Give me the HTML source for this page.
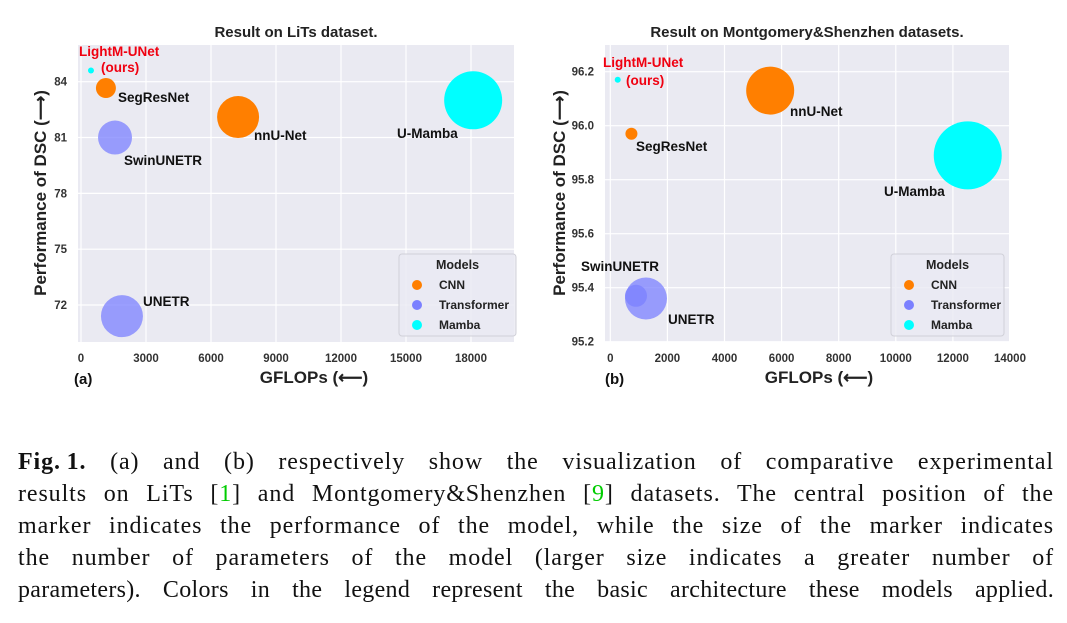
<!DOCTYPE html>
<html><head><meta charset="utf-8"><style>
body{margin:0;background:#fff;width:1067px;height:623px;overflow:hidden;position:relative}
svg text{font-family:"Liberation Sans",sans-serif}
.cap{position:absolute;left:18px;width:1036px;font-family:"Liberation Serif",serif;font-size:24px;letter-spacing:0.9px;color:#111;text-align:justify;text-align-last:justify;white-space:nowrap;line-height:32px}
</style></head><body>
<svg id="fig" width="1067" height="400" style="position:absolute;left:0;top:0"></svg>
<div class="cap" style="top:446px"><b>Fig.&#8201;1.</b> (a) and (b) respectively show the visualization of comparative experimental</div>
<div class="cap" style="top:478px">results on LiTs [<span style="color:#0c0">1</span>] and Montgomery&amp;Shenzhen [<span style="color:#0c0">9</span>] datasets. The central position of the</div>
<div class="cap" style="top:510px">marker indicates the performance of the model, while the size of the marker indicates</div>
<div class="cap" style="top:542px">the number of parameters of the model (larger size indicates a greater number of</div>
<div class="cap" style="top:574px;letter-spacing:0.3px">parameters). Colors in the legend represent the basic architecture these models applied.</div>
<script>
const modelsA = ["LightM-UNet","SegResNet","SwinUNETR","nnU-Net","U-Mamba","UNETR"];
const typesA = ["Mamba","CNN","Transformer","CNN","Mamba","Transformer"];
const gflopsA = [460,1150,1570,7250,18100,1890];
const dscA = [84.6,83.66,81.0,82.1,83.0,71.4];
const radiusA = [3,10,17,21,29,21];
const xTicksA = [0,3000,6000,9000,12000,15000,18000];
const yTicksA = [72,75,78,81,84];

const modelsB = ["LightM-UNet","nnU-Net","SegResNet","U-Mamba","UNETR","SwinUNETR"];
const typesB = ["Mamba","CNN","CNN","Mamba","Transformer","Transformer"];
const gflopsB = [260,5600,740,12520,1250,900];
const dscB = [96.17,96.13,95.97,95.89,95.36,95.37];
const radiusB = [3,24,6,34,21,11];
const xTicksB = [0,2000,4000,6000,8000,10000,12000,14000];
const yTicksB = [95.2,95.4,95.6,95.8,96.0,96.2];
const legendTypes = ["CNN","Transformer","Mamba"];

const colors={CNN:"#ff7f00",Transformer:"#7b80ff",Mamba:"#00ffff"};
const NS="http://www.w3.org/2000/svg";
const svg=document.getElementById('fig');
function mk(tag,attrs,parent,txt){const e=document.createElementNS(NS,tag);for(const k in attrs)e.setAttribute(k,attrs[k]);if(txt!==undefined)e.textContent=txt;(parent||svg).appendChild(e);return e;}

function chart(cfg){
  const g=mk('g',{});
  
  
  const sx=v=>cfg.x0px+(v-cfg.x0v)*(cfg.x1px-cfg.x0px)/(cfg.x1v-cfg.x0v);
  const sy=v=>cfg.y0px+(v-cfg.y0v)*(cfg.y1px-cfg.y0px)/(cfg.y1v-cfg.y0v);
  const bg=mk('rect',{x:cfg.L,y:cfg.T,width:cfg.R-cfg.L,height:cfg.B-cfg.T,fill:'#eaeaf2'},g);
  
  cfg.xt.forEach(t=>{
    mk('line',{x1:sx(t),x2:sx(t),y1:cfg.T,y2:cfg.B,stroke:'#fff','stroke-width':1.2},g);
    const l=mk('text',{x:sx(t),y:362,'text-anchor':'middle','font-size':11.5,'font-weight':'bold',fill:'#333'},g,String(t));
    
  });
  cfg.yt.forEach(t=>{
    mk('line',{x1:cfg.L,x2:cfg.R,y1:sy(t),y2:sy(t),stroke:'#fff','stroke-width':1.2},g);
    const l=mk('text',{x:cfg.L-11,y:sy(t)+4,'text-anchor':'end','font-size':11.5,'font-weight':'bold',fill:'#333'},g,cfg.yfmt(t));
    
  });
  cfg.models.forEach((m,i)=>{
    const c=mk('circle',{cx:sx(cfg.gx[i]),cy:sy(cfg.gy[i]),r:cfg.r[i],fill:colors[cfg.types[i]],'fill-opacity':cfg.types[i]==='Transformer'?0.75:1},g);
    
  });
  cfg.labels.forEach(([t,x,y,col])=>{
    const l=mk('text',{x:x,y:y,'font-size':13.5,'font-weight':'bold',fill:col||'#111'},g,t);
    
  });
  const tt=mk('text',{x:cfg.tx,y:37,'text-anchor':'middle','font-size':15,'font-weight':'bold',fill:'#222'},g,cfg.title);
  
  const yl=mk('text',{x:0,y:0,transform:`translate(${cfg.ylx},193) rotate(-90)`,'text-anchor':'middle','font-size':17,'font-weight':'bold',fill:'#222'},g,'Performance of DSC (\u27F6)');
  
  const xl=mk('text',{x:cfg.xlx,y:383,'text-anchor':'middle','font-size':17,'font-weight':'bold',fill:'#222'},g,'GFLOPs (\u27F5)');
  
  const pl=mk('text',{x:cfg.px,y:384,'font-size':15,'font-weight':'bold',fill:'#111'},g,cfg.panel);
  
  const lg=mk('g',{},g);
  mk('rect',{x:cfg.lgx,y:254,width:cfg.lgw,height:82,rx:3,fill:'#eaeaf2','fill-opacity':0.8,stroke:'#d0d0d8'},lg);
  mk('text',{x:cfg.lgx+cfg.lgw/2,y:269,'text-anchor':'middle','font-size':12.5,'font-weight':'bold',fill:'#222'},lg,'Models');
  legendTypes.forEach((t,i)=>{
    const e=mk('g',{},lg);
    mk('circle',{cx:cfg.lgx+18,cy:285+i*20,r:5,fill:colors[t]},e);
    mk('text',{x:cfg.lgx+40,y:289+i*20,'font-size':12,'font-weight':'bold',fill:'#222'},e,t);
  });
}
chart({name:'chart-lits',L:78,R:514,T:45,B:342,x0v:0,x1v:18000,x0px:81,x1px:471,y0v:84,y1v:72,y0px:81.7,y1px:305,
  xt:xTicksA,yt:yTicksA,yfmt:t=>String(t),models:modelsA,types:typesA,gx:gflopsA,gy:dscA,r:radiusA,
  labels:[["LightM-UNet",79,56,'#f00010'],["(ours)",101,72,'#f00010'],["SegResNet",118,102],["SwinUNETR",124,165],["nnU-Net",254,140],["U-Mamba",397,138],["UNETR",143,306]],
  title:'Result on LiTs dataset.',tx:296,ylx:46,xlx:314,px:74,panel:'(a)',lgx:399,lgw:117});
chart({name:'chart-montgomery-shenzhen',L:605,R:1009,T:45,B:342,x0v:0,x1v:14000,x0px:610.3,x1px:1010,y0v:96.2,y1v:95.2,y0px:71.7,y1px:341.7,
  xt:xTicksB,yt:yTicksB,yfmt:t=>t.toFixed(1),models:modelsB,types:typesB,gx:gflopsB,gy:dscB,r:radiusB,
  labels:[["LightM-UNet",603,67,'#f00010'],["(ours)",626,85,'#f00010'],["nnU-Net",790,116],["SegResNet",636,151],["U-Mamba",884,196],["SwinUNETR",581,271],["UNETR",668,324]],
  title:'Result on Montgomery&Shenzhen datasets.',tx:807,ylx:565,xlx:819,px:605,panel:'(b)',lgx:891,lgw:113});
</script>
</body></html>
